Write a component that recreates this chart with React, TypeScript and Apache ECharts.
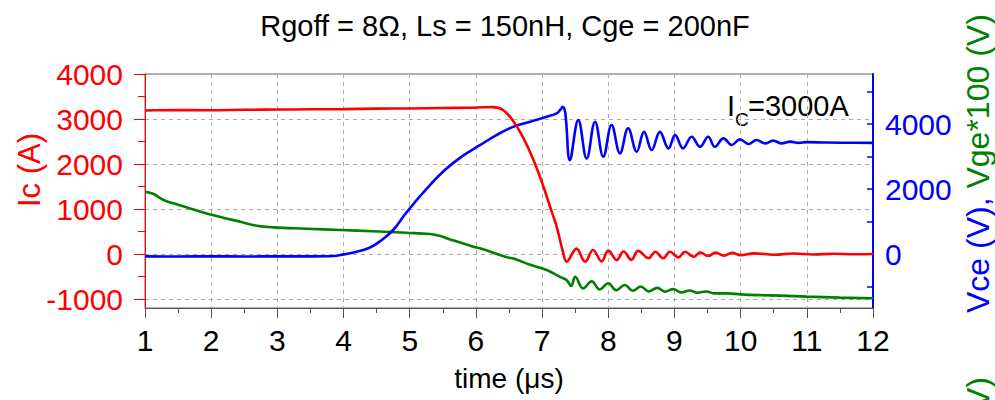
import { useEffect, useRef } from 'react';
import * as echarts from 'echarts';

const FONT = '"Liberation Sans", Arial, Helvetica, sans-serif';

// Collector current Ic (A) against time (µs)
const icTrace: [number, number][] = [
  [1.0, 3190], [1.5, 3200], [2.0, 3195], [2.5, 3205], [3.0, 3210], [3.5, 3215],
  [4.0, 3220], [4.5, 3230], [5.0, 3235], [5.5, 3245], [5.9, 3250], [6.1, 3260],
  [6.26, 3265], [6.41, 3200], [6.57, 2940], [6.72, 2570], [6.87, 2090], [7.02, 1500],
  [7.12, 1050], [7.22, 610], [7.32, 20], [7.37, -170], [7.52, 120], [7.65, -170],
  [7.77, 90], [7.9, -165], [8.0, 75], [8.13, -135], [8.23, 55], [8.35, -130],
  [8.45, 70], [8.61, -95], [8.71, 50], [8.83, -95], [8.93, 50], [9.06, -75],
  [9.16, 50], [9.29, -60], [9.39, 35], [9.51, -45], [9.62, 30], [9.75, -35],
  [9.87, 25], [10.0, -25], [10.2, 15], [10.5, -15], [10.8, 10], [11.1, -10],
  [11.4, 5], [11.7, -5], [12.0, 0],
];

// Collector-emitter voltage Vce (V)
const vceTrace: [number, number][] = [
  [1.0, -70], [1.5, -75], [2.0, -70], [2.5, -75], [3.0, -70], [3.5, -70],
  [3.85, -60], [4.0, -10], [4.2, 70], [4.4, 200], [4.55, 390], [4.75, 740],
  [4.95, 1280], [5.26, 2020], [5.53, 2585], [5.8, 3020], [6.06, 3350], [6.31, 3660],
  [6.57, 3920], [6.82, 4070], [7.07, 4225], [7.22, 4330], [7.28, 4450], [7.31, 4530],
  [7.35, 4350], [7.42, 2890], [7.547, 4120], [7.674, 2940], [7.8, 4070], [7.925, 2995],
  [8.05, 3970], [8.177, 3100], [8.3, 3870], [8.43, 3150], [8.54, 3760], [8.656, 3200],
  [8.78, 3760], [8.91, 3250], [9.01, 3660], [9.13, 3250], [9.26, 3610], [9.386, 3300],
  [9.51, 3610], [9.61, 3300], [9.74, 3560], [9.865, 3355], [9.99, 3530], [10.12, 3385],
  [10.24, 3510], [10.37, 3405], [10.49, 3490], [10.62, 3405], [10.75, 3460], [10.87, 3420],
  [11.0, 3445], [11.3, 3430], [11.6, 3425], [12.0, 3420],
];

// Gate-emitter voltage scaled by 100, Vge*100 (V)
const vge100Trace: [number, number][] = [
  [1.0, 1917], [1.13, 1846], [1.28, 1662], [1.43, 1560], [1.68, 1405], [1.93, 1250],
  [2.18, 1120], [2.44, 995], [2.69, 870], [2.94, 820], [3.44, 780], [3.95, 740],
  [4.45, 700], [4.95, 655], [5.31, 615], [5.46, 555], [5.61, 450], [5.96, 225],
  [6.06, 175], [6.47, -100], [6.57, -140], [6.82, -330], [7.07, -490], [7.27, -700],
  [7.37, -800], [7.44, -980], [7.5, -700], [7.62, -1060], [7.75, -840], [7.87, -1090],
  [8.0, -900], [8.12, -1110], [8.25, -950], [8.37, -1130], [8.49, -1000], [8.61, -1150],
  [8.74, -1040], [8.86, -1160], [8.98, -1080], [9.1, -1180], [9.23, -1120], [9.35, -1190],
  [9.48, -1150], [9.6, -1210], [9.8, -1210], [10.0, -1240], [10.3, -1265], [10.6, -1280],
  [11.0, -1310], [11.5, -1340], [12.0, -1360],
];

const icTickValues = [-1000, 0, 1000, 2000, 3000, 4000];
const icMinorTickValues = [-500, 500, 1500, 2500, 3500];
const voltTickValues = [-1000, 0, 1000, 2000, 3000, 4000, 5000];
const voltLabelValues = [0, 2000, 4000];

const titleText = 'Rgoff = 8Ω, Ls = 150nH, Cge = 200nF';

const plain = (v: number) => String(v);

export default function App() {
  const ref = useRef<HTMLDivElement>(null);

  useEffect(() => {
    if (!ref.current) return;
    const chart = echarts.init(ref.current, null, { renderer: 'svg' });

    const RED = '#ff0000';
    const BLUE = '#0000ff';
    const GREEN = '#008000';
    const GRID = '#aaaaaa';

    chart.setOption({
      animation: false,
      textStyle: { fontFamily: FONT },
      grid: {
        left: 145, right: 122, top: 74, bottom: 92,
        show: true, borderColor: '#666', borderWidth: 1, backgroundColor: 'transparent',
      },
      xAxis: {
        type: 'value', min: 1, max: 12, interval: 1,
        axisLine: { show: true, onZero: false, lineStyle: { color: '#555', width: 1 } },
        axisTick: { show: true, inside: false, length: 10, lineStyle: { color: '#555' } },
        minorTick: { show: true, splitNumber: 2, length: 5, lineStyle: { color: '#555' } },
        axisLabel: { fontSize: 30, color: '#000', margin: 17, fontFamily: FONT, formatter: plain },
        splitLine: { show: true, lineStyle: { color: GRID, type: [4, 4], width: 1 } },
        name: 'time (μs)', nameLocation: 'middle', nameGap: 56,
        nameTextStyle: { fontSize: 28, color: '#000', fontFamily: FONT },
      },
      yAxis: [
        {
          type: 'value', min: -1200, max: 4000, position: 'left',
          axisLine: { show: true, onZero: false, lineStyle: { color: RED, width: 1 } },
          axisTick: { show: true, inside: false, length: 11, customValues: icTickValues, lineStyle: { color: RED } },
          axisLabel: { customValues: icTickValues, fontSize: 30, color: RED, margin: 22, fontFamily: FONT, formatter: plain },
          splitLine: { show: true, lineStyle: { color: GRID, type: [4, 4], width: 1 } },
        },
        {
          type: 'value', min: -1200, max: 4000, position: 'left',
          axisLine: { show: false, onZero: false },
          axisTick: { show: true, inside: false, length: 7, customValues: icMinorTickValues, lineStyle: { color: RED } },
          axisLabel: { show: false },
          splitLine: { show: false },
        },
        {
          type: 'value', min: -1660, max: 5540, position: 'right',
          axisLine: { show: true, onZero: false, lineStyle: { color: BLUE, width: 2 } },
          axisTick: { show: true, inside: true, length: 6, customValues: voltTickValues, lineStyle: { color: BLUE, width: 1.5 } },
          axisLabel: { customValues: voltLabelValues, fontSize: 30, color: BLUE, margin: 12, fontFamily: FONT, formatter: plain },
          splitLine: { show: false },
        },
      ],
      series: [
        {
          name: 'Vge*100', type: 'line', yAxisIndex: 2, data: vge100Trace,
          symbol: 'none', smooth: 0.4, clip: true,
          lineStyle: { color: GREEN, width: 2.6 }, z: 2,
        },
        {
          name: 'Vce', type: 'line', yAxisIndex: 2, data: vceTrace,
          symbol: 'none', smooth: 0.4, clip: true,
          lineStyle: { color: BLUE, width: 2.6 }, z: 3,
        },
        {
          name: 'Ic', type: 'line', yAxisIndex: 0, data: icTrace,
          symbol: 'none', smooth: 0.4, clip: true,
          lineStyle: { color: RED, width: 2.6 }, z: 4,
        },
      ],
      graphic: [
        {
          type: 'text', x: 505, y: 26,
          style: {
            text: titleText, fontSize: 29, fontFamily: FONT, fill: '#000',
            align: 'center', verticalAlign: 'middle', textAlign: 'center', textVerticalAlign: 'middle',
          },
        },
        {
          type: 'text', x: 29, y: 170, rotation: Math.PI / 2,
          style: {
            text: 'Ic (A)', fontSize: 31, fontFamily: FONT, fill: RED,
            align: 'center', verticalAlign: 'middle', textAlign: 'center', textVerticalAlign: 'middle',
          },
        },
        {
          type: 'text', x: 978, y: 313, rotation: Math.PI / 2,
          style: {
            text: '{b|Vce (V), }{g|Vge*100 (V)}',
            fontSize: 32, fontFamily: FONT,
            align: 'left', verticalAlign: 'middle', textAlign: 'left', textVerticalAlign: 'middle',
            rich: {
              b: { fill: BLUE, fontSize: 32, fontFamily: FONT },
              g: { fill: GREEN, fontSize: 32, fontFamily: FONT },
            },
          },
        },
        {
          type: 'text', x: 978, y: 377, rotation: Math.PI / 2,
          style: {
            text: '(V)', fontSize: 32, fontFamily: FONT, fill: GREEN,
            align: 'right', verticalAlign: 'middle', textAlign: 'right', textVerticalAlign: 'middle',
          },
        },
        {
          type: 'text', x: 727, y: 106,
          style: {
            text: 'I', fontSize: 29, fontFamily: FONT, fill: '#000',
            align: 'left', verticalAlign: 'middle', textAlign: 'left', textVerticalAlign: 'middle',
          },
        },
        {
          type: 'text', x: 735, y: 119,
          style: {
            text: 'C', fontSize: 19, fontFamily: FONT, fill: '#000',
            align: 'left', verticalAlign: 'middle', textAlign: 'left', textVerticalAlign: 'middle',
          },
        },
        {
          type: 'text', x: 748, y: 106,
          style: {
            text: '=3000A', fontSize: 29, fontFamily: FONT, fill: '#000',
            align: 'left', verticalAlign: 'middle', textAlign: 'left', textVerticalAlign: 'middle',
          },
        },
      ],
    });

    return () => chart.dispose();
  }, []);

  return (
    <div
      ref={ref}
      style={{ position: 'fixed', left: 0, top: 0, width: 995, height: 400, background: '#fff' }}
    />
  );
}
